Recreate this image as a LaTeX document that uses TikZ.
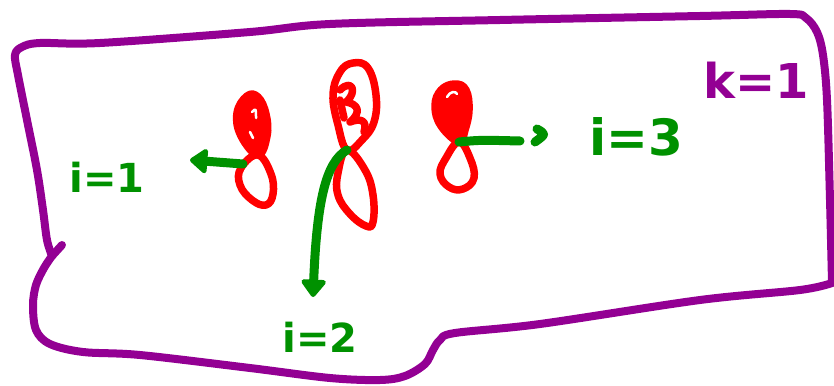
\documentclass[tikz,border=0pt]{standalone}
\usepackage{fontspec}
\setmainfont{DejaVu Sans}
\usetikzlibrary{arrows.meta}
\definecolor{frame}{RGB}{147,0,147}
\definecolor{lobe}{RGB}{255,0,0}
\definecolor{ink}{RGB}{0,145,0}
\begin{document}
\begin{tikzpicture}[x=1pt,y=-1pt,line cap=round,line join=round,
  frameline/.style={draw=frame,line width=8pt},
  lobeline/.style={draw=lobe,line width=7.5pt},
  lobefill/.style={draw=lobe,fill=lobe,line width=7.5pt},
  shine/.style={draw=white,line width=2.5pt},
  arrowline/.style={draw=ink,line width=9pt},
  headtip/.style={-{Triangle[length=19pt,width=28pt,round]}},
  greenlabel/.style={text=ink,inner sep=0pt,anchor=base,font=\bfseries\fontsize{40}{40}\selectfont},
  purplelabel/.style={text=frame,inner sep=0pt,anchor=base,font=\bfseries\fontsize{48}{48}\selectfont}]
\useasboundingbox (0,0) rectangle (834,385);

% hand-drawn frame
\draw[frameline] plot[smooth,tension=0.55] coordinates {
  (52,256) (44,268) (36,285) (33,305) (36,330) (50,344) (83,352) (140,355)
  (250,368) (330,378) (380,380) (405,376) (425,364) (433,350) (440,340)
  (455,333) (540,324) (700,300) (800,290) (832,283)};
\draw[frameline] plot[smooth,tension=0.55] coordinates {
  (832,283) (830,200) (827,100) (823,55) (817,32) (806,18) (790,14)
  (700,16) (500,20) (330,24) (250,32) (100,43) (40,43) (22,47) (15,55)
  (18,75) (27,120) (37,170) (43,210) (47,240) (52,256)};
\draw[frameline] (52,256) -- (62,245);

% waist points of the three orbitals
\coordinate (w1) at (258,155);
\coordinate (w2) at (347,150);
\coordinate (w3) at (459,142);

% orbital 1
\draw[lobefill] plot[smooth cycle,tension=0.7] coordinates {
  (w1) (241,136) (237,113) (247,96) (258,97) (266,114) (267,136)};
\draw[shine] (252,112) .. controls (256,108) .. (256,118);
\draw[shine] (250,132) -- (253,138);
\draw[lobeline] plot[smooth cycle,tension=0.7] coordinates {
  (w1) (271,174) (273,194) (266,205) (252,200) (240,185) (241,168)};

% orbital 2
\draw[lobeline] plot[smooth cycle,tension=0.7] coordinates {
  (w2) (338,125) (333,95) (340,72) (353,63) (368,68) (376,95) (374,122) (362,140)};
\draw[lobeline] (340,90) .. controls (352,78) and (358,92) .. (346,102)
  .. controls (358,104) and (362,112) .. (350,122)
  .. controls (360,118) and (368,120) .. (364,132);
\draw[lobeline] (340,100) -- (344,118);
\draw[lobeline] plot[smooth cycle,tension=0.7] coordinates {
  (w2) (338,173) (338,195) (350,214) (366,226) (373,222) (373,195) (365,170)};

% orbital 3
\draw[lobefill] plot[smooth cycle,tension=0.7] coordinates {
  (w3) (441,126) (435,106) (441,90) (455,84) (466,90) (469,110) (465,130)};
\draw[shine] (447,97) .. controls (450,91) and (456,91) .. (457,94);
\draw[lobeline] plot[smooth cycle,tension=0.7] coordinates {
  (w3) (446,158) (440,174) (449,187) (463,189) (474,178) (470,158)};

% labels
\node[greenlabel] (l1) at (107,192) {i=1};
\node[greenlabel] (l2) at (320,352) {i=2};
\node[greenlabel,font=\bfseries\fontsize{50}{50}\selectfont] (l3) at (636,155) {i=3};
\node[purplelabel] (k) at (756,99) {k=1};

% arrows from the orbitals towards their labels
\coordinate (h1) at (190,160);
\coordinate (h2) at (313,297);
\coordinate (e3) at (520,141);
\draw[arrowline,headtip] (243,164) -- (h1);
\draw[arrowline,headtip] (w2) .. controls (326,162) and (317,200) .. (h2);
\draw[arrowline] (w3) .. controls (480,140) .. (e3);
\draw[arrowline] (537,129) .. controls (546,134) .. (535,142);
\end{tikzpicture}
\end{document}
